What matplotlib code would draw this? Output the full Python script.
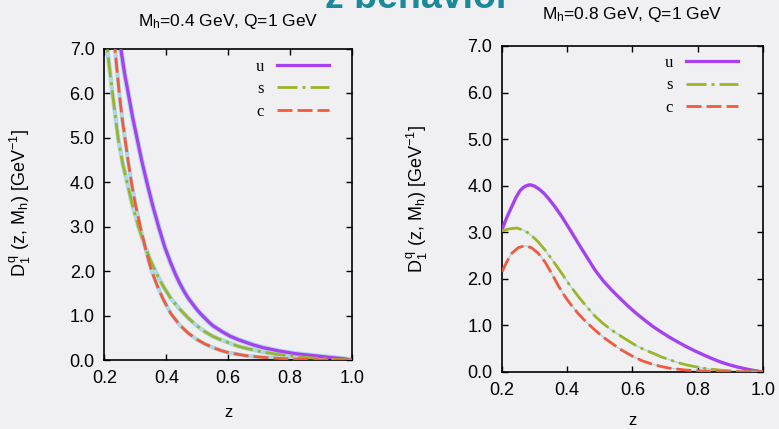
import matplotlib
matplotlib.use("Agg")
import matplotlib.pyplot as plt

# ======================
# DATA
# ======================
# left panel: M_h = 0.4 GeV
z_u_left = [0.24, 0.253, 0.265, 0.277, 0.29, 0.305, 0.32, 0.337, 0.355, 0.375, 0.395, 0.415,
            0.43, 0.443, 0.457, 0.47, 0.484, 0.497, 0.511, 0.525, 0.538, 0.551, 0.58, 0.605,
            0.632, 0.66, 0.686, 0.712, 0.766, 0.82, 0.874, 0.928, 0.97, 1.0]
d_u_left = [8.0, 7.0, 6.45, 6.0, 5.5, 5.0, 4.5, 4.0, 3.5, 3.0, 2.54, 2.17,
            1.92, 1.73, 1.55, 1.4, 1.27, 1.15, 1.04, 0.94, 0.85, 0.77, 0.64, 0.54,
            0.46, 0.39, 0.33, 0.28, 0.2, 0.14, 0.1, 0.06, 0.03, 0.0]

z_s_left = [0.2, 0.209, 0.226, 0.244, 0.258, 0.273, 0.29, 0.31, 0.328, 0.347, 0.368, 0.389,
            0.415, 0.443, 0.47, 0.497, 0.524, 0.551, 0.578, 0.605, 0.632, 0.66, 0.712, 0.766,
            0.82, 0.874, 0.93, 1.0]
d_s_left = [7.55, 7.0, 6.0, 5.0, 4.45, 4.0, 3.5, 3.0, 2.62, 2.27, 1.95, 1.67,
            1.38, 1.15, 0.95, 0.78, 0.64, 0.53, 0.45, 0.38, 0.31, 0.26, 0.18, 0.12,
            0.08, 0.045, 0.02, 0.0]

z_c_left = [0.225, 0.234, 0.248, 0.257, 0.266, 0.276, 0.287, 0.3, 0.316, 0.333, 0.35, 0.37,
            0.389, 0.415, 0.443, 0.47, 0.497, 0.525, 0.551, 0.578, 0.605, 0.66, 0.712, 0.766,
            0.82, 0.9, 1.0]
d_c_left = [7.7, 7.0, 6.0, 5.45, 5.0, 4.5, 4.0, 3.5, 3.0, 2.5, 2.06, 1.68,
            1.38, 1.04, 0.79, 0.61, 0.47, 0.36, 0.28, 0.21, 0.16, 0.095, 0.06, 0.035,
            0.02, 0.005, 0.0]

# right panel: M_h = 0.8 GeV
z_u_right = [0.2, 0.215, 0.23, 0.243, 0.255, 0.265, 0.275, 0.286, 0.3, 0.315, 0.328, 0.342,
             0.362, 0.383, 0.408, 0.434, 0.46, 0.485, 0.51, 0.536, 0.562, 0.587, 0.608,
             0.636, 0.664, 0.69, 0.715, 0.74, 0.766, 0.792, 0.817, 0.843, 0.868, 0.894,
             0.92, 0.945, 0.97, 1.0]
d_u_right = [3.06, 3.32, 3.55, 3.75, 3.89, 3.96, 4.0, 4.02, 3.99, 3.92, 3.84, 3.73,
             3.55, 3.34, 3.06, 2.76, 2.47, 2.19, 1.96, 1.76, 1.58, 1.41, 1.28,
             1.12, 0.97, 0.85, 0.74, 0.64, 0.54, 0.45, 0.37, 0.29, 0.22, 0.16,
             0.11, 0.07, 0.035, 0.0]

z_s_right = [0.2, 0.22, 0.245, 0.265, 0.281, 0.295, 0.31, 0.332, 0.357, 0.383, 0.408, 0.434,
             0.46, 0.485, 0.51, 0.536, 0.562, 0.585, 0.608, 0.636, 0.664, 0.69, 0.715, 0.74,
             0.766, 0.817, 0.868, 0.92, 1.0]
d_s_right = [3.03, 3.07, 3.09, 3.05, 2.98, 2.9, 2.8, 2.62, 2.38, 2.12, 1.86, 1.62,
             1.40, 1.2, 1.04, 0.9, 0.78, 0.68, 0.58, 0.48, 0.40, 0.32, 0.26, 0.2,
             0.15, 0.08, 0.04, 0.015, 0.0]

z_c_right = [0.2, 0.215, 0.23, 0.25, 0.27, 0.29, 0.311, 0.332, 0.352, 0.372, 0.393, 0.413,
             0.434, 0.46, 0.485, 0.51, 0.536, 0.562, 0.597, 0.63, 0.664, 0.69, 0.715, 0.766,
             0.817, 0.868, 1.0]
d_c_right = [2.15, 2.37, 2.55, 2.67, 2.71, 2.67, 2.55, 2.36, 2.12, 1.86, 1.62, 1.43,
             1.25, 1.06, 0.90, 0.75, 0.62, 0.49, 0.35, 0.24, 0.16, 0.115, 0.08, 0.04,
             0.02, 0.01, 0.0]

flavours = ["u", "s", "c"]
titles = ["M$_{\\mathrm{h}}$=0.4 GeV, Q=1 GeV", "M$_{\\mathrm{h}}$=0.8 GeV, Q=1 GeV"]
x_ticks = [0.2, 0.4, 0.6, 0.8, 1.0]
y_ticks = [0, 1, 2, 3, 4, 5, 6, 7]

# ======================
# STYLE
# ======================
BG = "#f0f0f3"
COLORS = {"u": "#a83ff0", "s": "#9ab52c", "c": "#f15a3c"}
DASHES = {"u": None, "s": (14.4, 3.6, 2.2, 3.6), "c": (10.8, 3.6)}
BAND = "#add8e6"

plt.rcParams["font.family"] = ["Liberation Sans", "DejaVu Sans"]
plt.rcParams["mathtext.fontset"] = "custom"
plt.rcParams["mathtext.rm"] = "Liberation Sans"
plt.rcParams["mathtext.it"] = "Liberation Sans:italic"
plt.rcParams["lines.scale_dashes"] = False

fig = plt.figure(figsize=(7.79, 4.29), dpi=100, facecolor=BG)

ax_l = fig.add_axes([0.1341, 0.1608, 0.3177, 0.725])
ax_r = fig.add_axes([0.6444, 0.1329, 0.3350, 0.760])

# axes, curves, band widths, title pad, legend anchor, ylabel coords, xlabel y
panels = [
    (ax_l, {"u": (z_u_left, d_u_left), "s": (z_s_left, d_s_left), "c": (z_c_left, d_c_left)},
     {"u": 3.8, "s": 3.2, "c": 3.0}, 16.5, (0.907, 0.968), (-0.29, 0.505), -0.145),
    (ax_r, {"u": (z_u_right, d_u_right), "s": (z_s_right, d_s_right), "c": (z_c_right, d_c_right)},
     {"u": 2.4, "s": 1.0, "c": 1.0}, 19.5, (0.904, 0.972), (-0.276, 0.53), -0.125),
]

for i, (ax, data, band_w, tpad, leg_anchor, ylab_pos, xlab_y) in enumerate(panels):
    ax.set_facecolor(BG)
    # light blue uncertainty band under each curve
    for q in flavours:
        z, d = data[q]
        ax.plot(z, d, color=BAND, linewidth=band_w[q], solid_capstyle="butt", zorder=2)
    for q in flavours:
        z, d = data[q]
        lw = 2.3 if q == "u" else 2.0
        line, = ax.plot(z, d, color=COLORS[q], linewidth=lw, label=q, zorder=3)
        if DASHES[q] is not None:
            line.set_dashes(DASHES[q])
            line.set_dash_capstyle("butt")

    ax.set_xlim(0.2, 1.0)
    ax.set_ylim(0, 7)
    ax.set_xticks(x_ticks)
    ax.set_xticklabels([f"{t:.1f}" for t in x_ticks])
    ax.set_yticks(y_ticks)
    ax.set_yticklabels([f"{t:.1f}" for t in y_ticks])
    ax.tick_params(direction="in", length=4, width=1.0, top=True, right=True,
                   labelsize=13, pad=7, colors="black")
    for sp in ax.spines.values():
        sp.set_linewidth(1.2)

    ax.set_title(titles[i], fontsize=12.5, pad=tpad)
    ax.set_xlabel("z", fontsize=12)
    ax.xaxis.set_label_coords(0.5, xlab_y)
    ax.set_ylabel("D$_1^{\\,\\mathrm{q}}$ (z, M$_{\\mathrm{h}}$) [GeV$^{-1}$]", fontsize=13)
    ax.yaxis.set_label_coords(*ylab_pos)

    ax.legend(loc="upper right", bbox_to_anchor=leg_anchor, frameon=False,
              markerfirst=False, handlelength=3.1, handletextpad=0.8,
              borderpad=0, borderaxespad=0, labelspacing=0.38,
              prop={"family": "Liberation Serif", "size": 12})

# partially visible slide heading at the very top
fig.text(0.536, 1 - 7.5 / 429, "z behavior", ha="center", va="baseline",
         fontsize=27, fontweight="bold", color="#1a8a9b")

fig.savefig("out.png", dpi=100, facecolor=BG)
